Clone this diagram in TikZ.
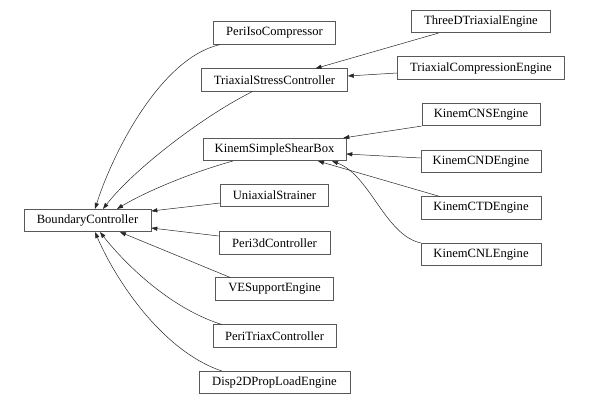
\documentclass[tikz,border=0pt]{standalone}
\usepackage{fontspec}
\setmainfont{Liberation Serif}
\usetikzlibrary{arrows.meta,calc}

\begin{document}
\begin{tikzpicture}[x=1pt,y=-1pt,
  cls/.style={draw=black!65,line width=0.6pt,minimum height=22.5pt,inner sep=0pt,
    font=\fontsize{12.6}{14}\selectfont},
  inh/.style={draw=black!85,line width=0.5pt,-{Triangle[length=6pt,width=4.2pt]}}]
  \useasboundingbox (0,0) rectangle (589,404);

  \def\mx{274.5}
  \def\rx{481}

  \node[cls,minimum width=127pt] (bc) at (87.5,220.5) {BoundaryController};

  \foreach \n/\y/\w/\t in {iso/33/122/PeriIsoCompressor,
      tsc/80/146/TriaxialStressController,
      kssb/149.5/143/KinemSimpleShearBox,
      uni/195.5/108/UniaxialStrainer,
      pdc/243/111/Peri3dController,
      ves/289/118/VESupportEngine,
      ptc/336/123/PeriTriaxController,
      dpl/382.5/151/Disp2DPropLoadEngine}
    \node[cls,minimum width=\w pt] (\n) at (\mx,\y) {\t};

  \foreach \n/\y/\w/\t in {tde/21.5/139/ThreeDTriaxialEngine,
      tce/68/167/TriaxialCompressionEngine,
      cns/114.5/118/KinemCNSEngine,
      cnd/161.5/120/KinemCNDEngine,
      ctd/208/120/KinemCTDEngine,
      cnl/254.5/120/KinemCNLEngine}
    \node[cls,minimum width=\w pt] (\n) at (\rx,\y) {\t};

  % into BoundaryController
  \draw[inh] ($(iso.south west)+(7,0)$) .. controls (160,58) and (112,155) .. ($(bc.north)+(7.5,0)$);
  \draw[inh] ($(tsc.south)+(-22,0)$) .. controls (205,115) and (135,168) .. ($(bc.north)+(15.5,0)$);
  \draw[inh] ($(kssb.south west)+(30,0)$) .. controls (190,173) and (145,192) .. ($(bc.north)+(29.5,0)$);
  \draw[inh] ($(uni.west)+(0,7.5)$) -- ($(bc.east)+(0,-9.5)$);
  \draw[inh] ($(pdc.west)+(0,-7)$) -- ($(bc.east)+(0,7.5)$);
  \draw[inh] ($(ves.north west)+(15,0)$) -- ($(bc.south)+(32.5,0)$);
  \draw[inh] ($(ptc.north west)+(9,0)$) .. controls (175,310) and (130,270) .. ($(bc.south)+(12.5,0)$);
  \draw[inh] ($(dpl.north west)+(23,0)$) .. controls (165,352) and (118,285) .. ($(bc.south)+(7.5,0)$);

  % into TriaxialStressController
  \draw[inh] ($(tde.south)+(-42.5,0)$) -- ($(tsc.north)+(41,0)$);
  \draw[inh] ($(tce.west)+(0,5)$) -- ($(tsc.east)+(0,-4)$);

  % into KinemSimpleShearBox
  \draw[inh] (cns.south west) -- ($(kssb.north east)+(-3,0)$);
  \draw[inh] ($(cnd.west)+(0,-3.5)$) -- ($(kssb.east)+(0,4.5)$);
  \draw[inh] ($(ctd.north west)+(19,0)$) -- ($(kssb.south)+(43.5,0)$);
  \draw[inh] (cnl.north west) .. controls (385,235) and (370,175) .. ($(kssb.south)+(57.5,0)$);
\end{tikzpicture}
\end{document}
